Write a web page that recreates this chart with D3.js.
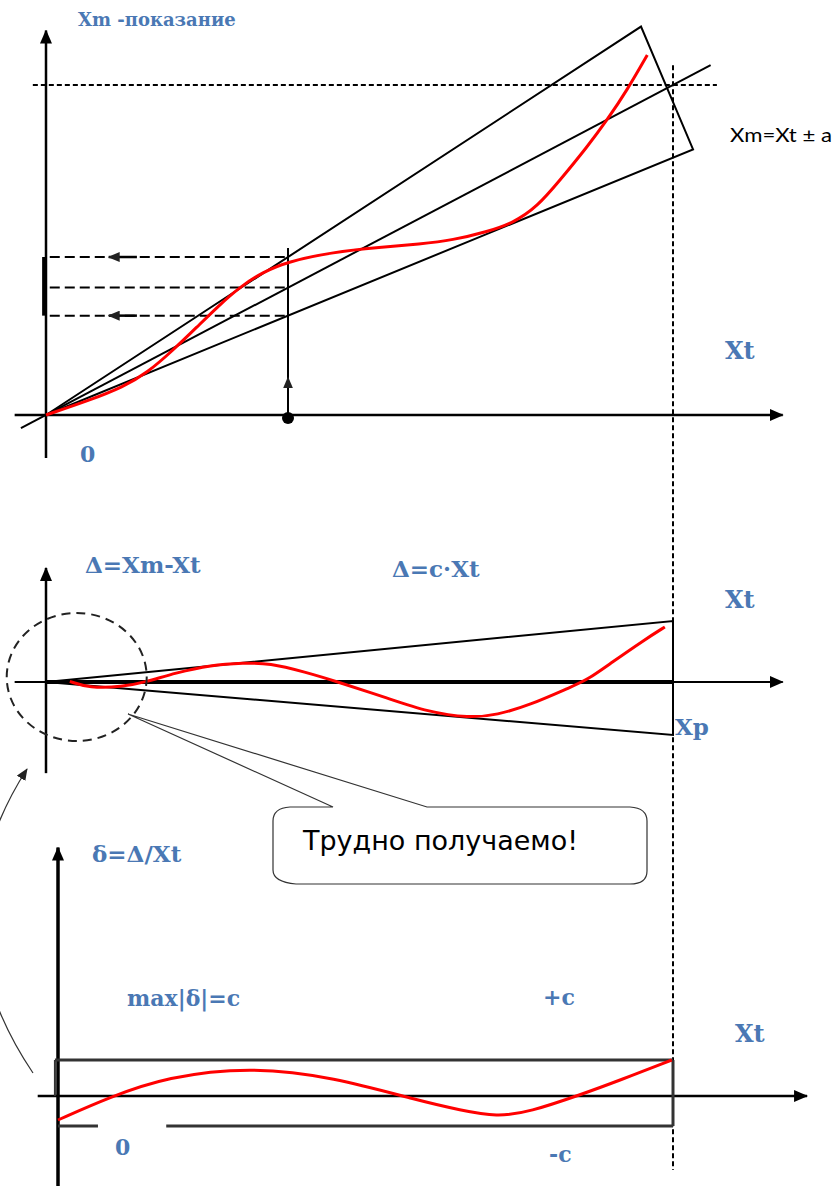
<!DOCTYPE html>
<html>
<head>
<meta charset="utf-8">
<script src="https://cdn.jsdelivr.net/npm/d3@7"></script>
<style>
  html, body { margin: 0; padding: 0; background: #fff; }
  .lbl { font-family: "DejaVu Serif", serif; font-weight: bold; fill: #4a78b4; }
</style>
</head>
<body>
<div id="chart"></div>
<script>
// top panel: Xm (reading) against Xt (true value), Xp = 1
const idealLine = [[-0.04, -0.04], [1.06, 1.06]];
const bandCorners = [[0.949, 1.177], [1.032, 0.805]];
const readXt = 0.386;
const readTop = 0.506;
const xmCurve = [[0, 0], [0.07, 0.045], [0.123, 0.085], [0.161, 0.127], [0.203, 0.197],
  [0.241, 0.267], [0.273, 0.327], [0.309, 0.388], [0.346, 0.433], [0.384, 0.464],
  [0.458, 0.494], [0.533, 0.508], [0.596, 0.518], [0.649, 0.53], [0.703, 0.555],
  [0.745, 0.582], [0.783, 0.63], [0.82, 0.712], [0.863, 0.812], [0.895, 0.894],
  [0.927, 0.985], [0.959, 1.091]];

// middle panel: absolute error, band = ±c·Xt
const deltaBand = [1, -1];
const deltaCurve = [[0.038, 0.01], [0.069, -0.113], [0.121, -0.094], [0.159, 0], [0.206, 0.148],
  [0.263, 0.279], [0.316, 0.311], [0.356, 0.311], [0.413, 0.164], [0.466, 0],
  [0.544, -0.302], [0.609, -0.566], [0.675, -0.679], [0.719, -0.623], [0.772, -0.434],
  [0.837, -0.094], [0.863, 0.033], [0.901, 0.311], [0.954, 0.689], [0.987, 0.902]];

// bottom panel: relative error, band = ±c
const relBand = [1, -1];
const relGap = [0.065, 0.176];
const relCurve = [[0, -0.8], [0.085, -0.03], [0.177, 0.53], [0.312, 0.81], [0.447, 0.53],
  [0.589, -0.17], [0.654, -0.47], [0.714, -0.7], [0.767, -0.53], [0.849, 0.03],
  [0.914, 0.44], [0.998, 1.0]];

const W = 836, H = 1186;
const svg = d3.select('#chart').append('svg').attr('width', W).attr('height', H);

const defs = svg.append('defs');
defs.append('marker').attr('id', 'arr')
  .attr('markerUnits', 'userSpaceOnUse')
  .attr('viewBox', '0 0 14 12').attr('markerWidth', 14).attr('markerHeight', 12)
  .attr('refX', 13).attr('refY', 6).attr('orient', 'auto')
  .append('path').attr('d', 'M0,0 L14,6 L0,12 Z').attr('fill', '#000');
defs.append('marker').attr('id', 'arrSmall')
  .attr('markerUnits', 'userSpaceOnUse')
  .attr('viewBox', '0 0 12 10').attr('markerWidth', 12).attr('markerHeight', 10)
  .attr('refX', 11).attr('refY', 5).attr('orient', 'auto')
  .append('path').attr('d', 'M0,0 L12,5 L0,10 Z').attr('fill', '#222');

const xTop = d3.scaleLinear().domain([0, 1]).range([46, 673]);
const yTop = d3.scaleLinear().domain([0, 1]).range([415, 85]);
const yMid = d3.scaleLinear().domain([-1, 0, 1]).range([735, 682, 621]);
const xBot = d3.scaleLinear().domain([0, 1]).range([58, 673]);
const yBot = d3.scaleLinear().domain([-1, 0, 1]).range([1126, 1096, 1060]);

function seg(g, x1, y1, x2, y2) {
  return g.append('line').attr('x1', x1).attr('y1', y1).attr('x2', x2).attr('y2', y2)
    .attr('stroke', '#000').attr('stroke-width', 2);
}
const red = (xs, ys) => d3.line().x(d => xs(d[0])).y(d => ys(d[1])).curve(d3.curveBasis);

// ---------- top panel
const topG = svg.append('g');
seg(topG, xTop(-0.05), yTop(0), xTop(1.175), yTop(0)).attr('stroke-width', 2.5).attr('marker-end', 'url(#arr)');
seg(topG, xTop(0), yTop(-0.13), xTop(0), yTop(1.165)).attr('stroke-width', 2.5).attr('marker-end', 'url(#arr)');

seg(topG, xTop(-0.021), yTop(1), xTop(1.07), yTop(1)).attr('stroke-dasharray', '5,3');

seg(topG, xTop(idealLine[0][0]), yTop(idealLine[0][1]), xTop(idealLine[1][0]), yTop(idealLine[1][1]));
const bandPath = [[0, 0], bandCorners[0], bandCorners[1], [0, 0]];
topG.append('path')
  .attr('d', d3.line().x(d => xTop(d[0])).y(d => yTop(d[1]))(bandPath))
  .attr('fill', 'none').attr('stroke', '#000').attr('stroke-width', 2);

// readings at Xt = readXt
const slopes = [bandCorners[0][1] / bandCorners[0][0], idealLine[1][1] / idealLine[1][0], bandCorners[1][1] / bandCorners[1][0]];
const levels = slopes.map(s => s * readXt);
levels.forEach((lv, i) => {
  seg(topG, xTop(0.006), yTop(lv), xTop(readXt), yTop(lv)).attr('stroke-dasharray', '10,5');
  if (i !== 1) {
    seg(topG, xTop(0.145), yTop(lv), xTop(0.1), yTop(lv)).attr('stroke-width', 2.5).attr('marker-end', 'url(#arrSmall)');
  }
});
seg(topG, xTop(-0.003), yTop(levels[0]), xTop(-0.003), yTop(levels[2])).attr('stroke-width', 4);
seg(topG, xTop(readXt), yTop(0), xTop(readXt), yTop(readTop));
seg(topG, xTop(readXt), yTop(0.06), xTop(readXt), yTop(0.114)).attr('marker-end', 'url(#arrSmall)');
topG.append('circle').attr('cx', xTop(readXt)).attr('cy', yTop(0) + 3).attr('r', 6).attr('fill', '#000');

topG.append('path').attr('d', red(xTop, yTop)(xmCurve))
  .attr('fill', 'none').attr('stroke', '#f00').attr('stroke-width', 3);

// Xp dashed vertical through all panels
seg(svg, xTop(1), yTop(1.06), xTop(1), yBot(-2.47)).attr('stroke-dasharray', '5,3');

// ---------- middle panel
const midG = svg.append('g');
seg(midG, xTop(-0.05), yMid(0), xTop(1.175), yMid(0)).attr('stroke-width', 2).attr('marker-end', 'url(#arr)');
seg(midG, xTop(0), yMid(0), xTop(1), yMid(0)).attr('stroke-width', 4);
seg(midG, xTop(0), yMid(-1.72), xTop(0), yMid(1.87)).attr('stroke-width', 2.5).attr('marker-end', 'url(#arr)');
const wedge = [[0, 0], [1, deltaBand[0]], [1, deltaBand[1]], [0, 0]];
midG.append('path')
  .attr('d', d3.line().x(d => xTop(d[0])).y(d => yMid(d[1]))(wedge))
  .attr('fill', 'none').attr('stroke', '#000').attr('stroke-width', 2);
midG.append('path').attr('d', red(xTop, yMid)(deltaCurve))
  .attr('fill', 'none').attr('stroke', '#f00').attr('stroke-width', 3);
midG.append('ellipse').attr('cx', xTop(0.049)).attr('cy', yMid(0.082)).attr('rx', 70).attr('ry', 64)
  .attr('fill', 'none').attr('stroke', '#222').attr('stroke-width', 2).attr('stroke-dasharray', '9,6');

// callout bubble
svg.append('path')
  .attr('d', 'M290,807 L333,807 L128,714 L427,807 L630,807 Q647,808 647,821 L647,871 Q647,884 630,884 ' +
    'L296,884 Q273,882 273,870 L273,821 Q273,808 290,807 Z')
  .attr('fill', '#fff').attr('stroke', '#333').attr('stroke-width', 1.2);
svg.append('text').attr('x', 303).attr('y', 850)
  .attr('textLength', 275).attr('lengthAdjust', 'spacingAndGlyphs')
  .style('font-family', '"Comic Sans MS", "DejaVu Sans", sans-serif').style('font-size', '27px')
  .text('Трудно получаемо!');

// curved pointer from bottom panel to the circle
svg.append('path').attr('d', 'M33,1073 Q-70,920 27,769')
  .attr('fill', 'none').attr('stroke', '#333').attr('stroke-width', 1.2).attr('marker-end', 'url(#arrSmall)');

// ---------- bottom panel
const botG = svg.append('g');
seg(botG, xBot(-0.033), yBot(0), xBot(1.218), yBot(0)).attr('stroke-width', 2.5).attr('marker-end', 'url(#arr)');
seg(botG, xBot(0), yBot(-3), xBot(0), yBot(6.9)).attr('stroke-width', 3.5).attr('marker-end', 'url(#arr)');
seg(botG, xBot(-0.005), yBot(relBand[0]), xBot(1), yBot(relBand[0])).attr('stroke', '#333').attr('stroke-width', 3);
seg(botG, xBot(-0.005), yBot(0), xBot(-0.005), yBot(relBand[0])).attr('stroke', '#333');
seg(botG, xBot(0), yBot(relBand[1]), xBot(relGap[0]), yBot(relBand[1])).attr('stroke', '#333').attr('stroke-width', 3);
seg(botG, xBot(relGap[1]), yBot(relBand[1]), xBot(1), yBot(relBand[1])).attr('stroke', '#333').attr('stroke-width', 3);
seg(botG, xBot(1), yBot(relBand[1]), xBot(1), yBot(relBand[0])).attr('stroke', '#333').attr('stroke-width', 3);
botG.append('path').attr('d', red(xBot, yBot)(relCurve))
  .attr('fill', 'none').attr('stroke', '#f00').attr('stroke-width', 3);

// ---------- labels
const labels = [
  ['Xm -показание', 78, 26, 18],
  ['Xt', 725, 359, 24],
  ['0', 80, 462, 22],
  ['Δ=Xm-Xt', 85, 573, 23],
  ['Δ=c·Xt', 392, 577, 23],
  ['Xt', 725, 608, 24],
  ['Xp', 675, 735, 23],
  ['δ=Δ/Xt', 92, 862, 23],
  ['max|δ|=c', 127, 1006, 22],
  ['+c', 543, 1005, 22],
  ['Xt', 735, 1042, 24],
  ['0', 115, 1155, 22],
  ['-c', 549, 1162, 22]
];
svg.selectAll('text.lbl').data(labels).enter().append('text').attr('class', 'lbl')
  .attr('x', d => d[1]).attr('y', d => d[2]).style('font-size', d => d[3] + 'px').text(d => d[0]);

svg.append('text').attr('x', 730).attr('y', 142)
  .attr('textLength', 102).attr('lengthAdjust', 'spacingAndGlyphs')
  .style('font-family', 'Lato, "Open Sans", sans-serif').style('font-size', '19px').attr('fill', '#000')
  .text('Xm=Xt ± a');
</script>
</body>
</html>
